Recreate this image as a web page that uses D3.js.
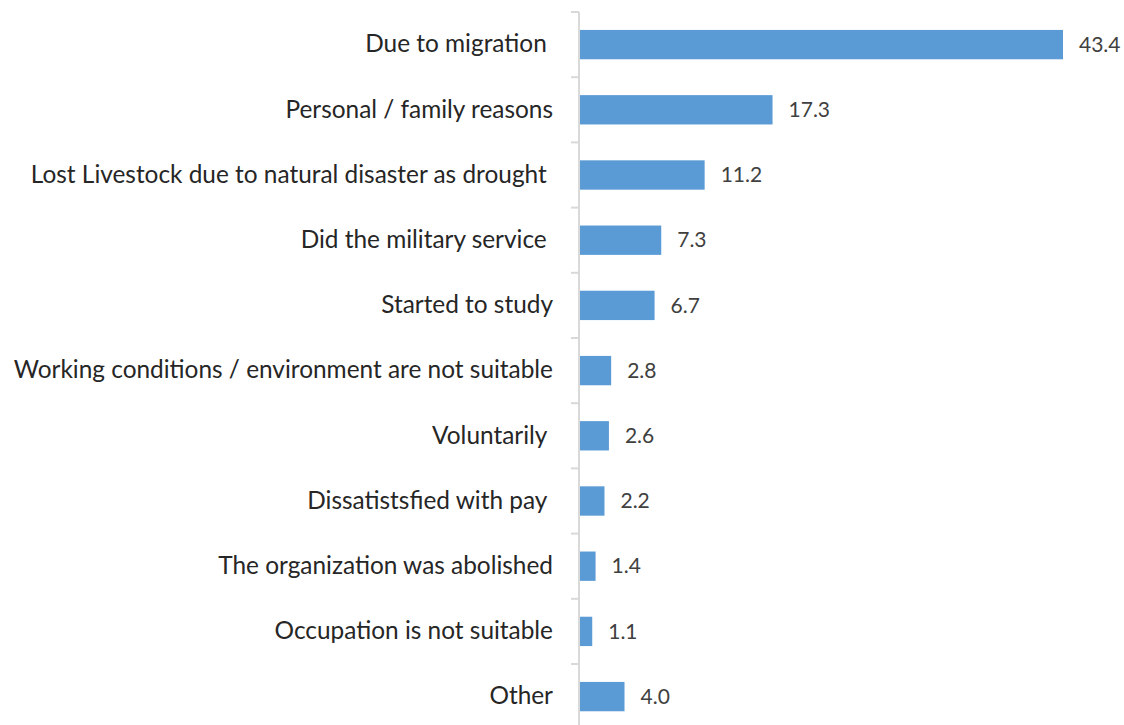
<!DOCTYPE html>
<html>
<head>
<meta charset="utf-8">
<script src="https://cdn.jsdelivr.net/npm/d3@7"></script>
<style>
  html, body { margin: 0; padding: 0; background: #fff; }
  svg text { white-space: pre; }
</style>
</head>
<body>
<svg id="chart" width="1124" height="725"></svg>
<script>
// Reasons for leaving the job (%)
const categories = [
  "Due to migration ",
  "Personal / family reasons",
  "Lost Livestock due to natural disaster as drought ",
  "Did the military service ",
  "Started to study",
  "Working conditions / environment are not suitable",
  "Voluntarily ",
  "Dissatistsfied with pay ",
  "The organization was abolished",
  "Occupation is not suitable",
  "Other"
];
const values = [43.4, 17.3, 11.2, 7.3, 6.7, 2.8, 2.6, 2.2, 1.4, 1.1, 4.0];
const valueLabels = ["43.4", "17.3", "11.2", "7.3", "6.7", "2.8", "2.6", "2.2", "1.4", "1.1", "4.0"];

const svg = d3.select("#chart");
const axisX = 579;
const plotTop = 12, bandStep = 65.2;

const x = d3.scaleLinear().domain([0, 43.4]).range([axisX + 1, 1063]);
const y = d3.scaleBand()
  .domain(categories)
  .range([plotTop, plotTop + bandStep * categories.length])
  .paddingInner(0.55)
  .paddingOuter(0.275);

// bars
svg.append("g").selectAll("rect")
  .data(values)
  .join("rect")
  .attr("x", x(0))
  .attr("y", (d, i) => y(categories[i]))
  .attr("width", d => x(d) - x(0))
  .attr("height", y.bandwidth())
  .attr("fill", "#5B9BD5");

// value labels
svg.append("g").selectAll("text")
  .data(values)
  .join("text")
  .attr("x", d => x(d) + 16)
  .attr("y", (d, i) => y(categories[i]) + y.bandwidth() / 2)
  .attr("dy", "0.34em")
  .attr("font-family", "Lato, 'Open Sans', sans-serif")
  .attr("font-weight", 400)
  .attr("font-size", 21)
  .attr("fill", "#404040")
  .text((d, i) => valueLabels[i]);

// category axis with ticks between bands
const axisG = svg.append("g");
axisG.append("line")
  .attr("x1", axisX).attr("x2", axisX)
  .attr("y1", plotTop).attr("y2", 725)
  .attr("stroke", "#d9d9d9").attr("stroke-width", 2);
const boundaries = d3.range(categories.length + 1).map(i => plotTop + i * bandStep);
axisG.selectAll("line.tick")
  .data(boundaries)
  .join("line")
  .attr("class", "tick")
  .attr("x1", axisX - 8).attr("x2", axisX)
  .attr("y1", d => d).attr("y2", d => d)
  .attr("stroke", "#d9d9d9").attr("stroke-width", 2);

axisG.selectAll("text.cat")
  .data(categories)
  .join("text")
  .attr("class", "cat")
  .attr("x", 553)
  .attr("y", d => y(d) + y.bandwidth() / 2)
  .attr("dy", "0.32em")
  .attr("text-anchor", "end")
  .attr("font-family", "Lato, 'Open Sans', sans-serif")
  .attr("font-weight", 400)
  .attr("font-size", 24.4)
  .attr("fill", "#262626")
  .text(d => d);
</script>
</body>
</html>
